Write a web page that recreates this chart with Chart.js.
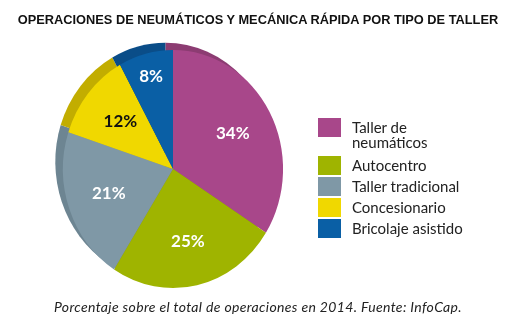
<!DOCTYPE html>
<html>
<head>
<meta charset="utf-8">
<script src="https://cdn.jsdelivr.net/npm/chart.js@4/dist/chart.umd.min.js"></script>
<style>
  html, body { margin: 0; padding: 0; background: #fff; }
  #wrap { position: relative; width: 516px; height: 323px; overflow: hidden; }
  #pie { position: absolute; left: 0; top: 0; }
  #title { position: absolute; left: 0; width: 516px; top: 12px; text-align: center;
    font: bold 12.8px "Liberation Sans", Arial, sans-serif; color: #111; }
  #caption { position: absolute; left: 0; width: 516px; top: 298px; text-align: center;
    font: italic 14px Lato, sans-serif; letter-spacing: 0.35px; color: #222; }
  #legend { position: absolute; left: 318px; top: 118px; font: 15px Lato, sans-serif; color: #222; }
  .item { position: relative; height: 21px; padding-left: 34px; line-height: 15px; }
  .item.two { height: 38px; }
  .box { position: absolute; left: 0; top: 0; width: 23px; height: 19px; }
  .txt { position: relative; top: 2px; }
</style>
</head>
<body>
<div id="wrap">
  <canvas id="pie" width="516" height="323"></canvas>
  <div id="title">OPERACIONES DE NEUMÁTICOS Y MECÁNICA RÁPIDA POR TIPO DE TALLER</div>
  <div id="legend"></div>
  <div id="caption">Porcentaje sobre el total de operaciones en 2014. Fuente: InfoCap.</div>
</div>
<script>
var labels = [['Taller de', 'neumáticos'], 'Autocentro', 'Taller tradicional', 'Concesionario', 'Bricolaje asistido'];
var values = [34, 25, 21, 12, 8];
var colors = ['#a8478a', '#9fb400', '#7f98a6', '#f0d800', '#0a5fa5'];
var rimColors = ['#8c3c72', '#85960a', '#6d8592', '#c2ad00', '#0a4d88'];
var labelColors = ['#fff', '#fff', '#fff', '#111', '#fff'];

// slight squash so the pie looks like the tilted disc of the original
var SX = 0.957, SY = 1.035;

// html legend
var legend = document.getElementById('legend');
labels.forEach(function(l, i) {
    var multi = Array.isArray(l);
    var d = document.createElement('div');
    d.className = 'item' + (multi ? ' two' : '');
    d.innerHTML = '<span class="box" style="background:' + colors[i] + '"></span>' +
        '<span class="txt">' + (multi ? l.join('<br>') : l) + '</span>';
    legend.appendChild(d);
});

function squash(ctx, cx, cy) {
    ctx.translate(cx, cy);
    ctx.scale(SX, SY);
    ctx.translate(-cx, -cy);
}

// darker rim on the upper left, drawn from the arc elements shifted a bit
var rimPlugin = {
    id: 'rim',
    beforeDatasetsDraw: function(chart) {
        var ctx = chart.ctx;
        var meta = chart.getDatasetMeta(0);
        var c = meta.data[0].getProps(['x', 'y']);
        ctx.save();
        squash(ctx, c.x, c.y);
        ctx.save();
        ctx.translate(-8, -7);
        meta.data.forEach(function(arc, i) {
            var p = arc.getProps(['x', 'y', 'startAngle', 'endAngle', 'outerRadius']);
            ctx.beginPath();
            ctx.moveTo(p.x, p.y);
            ctx.arc(p.x, p.y, p.outerRadius, p.startAngle, p.endAngle);
            ctx.closePath();
            ctx.fillStyle = rimColors[i];
            ctx.fill();
        });
        ctx.restore();
        // keep the squash for the slices, undone after they are drawn
    },
    afterDatasetsDraw: function(chart) {
        chart.ctx.restore();
    }
};

var labelPlugin = {
    id: 'pctLabels',
    afterDatasetsDraw: function(chart) {
        var ctx = chart.ctx;
        var meta = chart.getDatasetMeta(0);
        ctx.save();
        ctx.font = 'bold 17px Lato, sans-serif';
        ctx.textAlign = 'center';
        ctx.textBaseline = 'middle';
        meta.data.forEach(function(arc, i) {
            var p = arc.getProps(['x', 'y', 'startAngle', 'endAngle', 'outerRadius']);
            var mid = (p.startAngle + p.endAngle) / 2;
            var f = values[i] < 10 ? 0.8 : 0.62;
            ctx.fillStyle = labelColors[i];
            ctx.fillText(values[i] + '%', p.x + Math.cos(mid) * p.outerRadius * f * SX,
                p.y + Math.sin(mid) * p.outerRadius * f * SY);
        });
        ctx.restore();
    }
};

var ctx = document.getElementById('pie').getContext('2d');
var myChart = new Chart(ctx, {
    type: 'pie',
    data: {
        labels: labels,
        datasets: [{
            data: values,
            backgroundColor: colors,
            borderWidth: 0,
            clip: false
        }]
    },
    options: {
        responsive: false,
        animation: false,
        layout: { padding: { left: 58, right: 228, top: 54, bottom: 39 } },
        plugins: {
            legend: { display: false },
            tooltip: { enabled: false }
        }
    },
    plugins: [rimPlugin, labelPlugin]
});
</script>
</body>
</html>
